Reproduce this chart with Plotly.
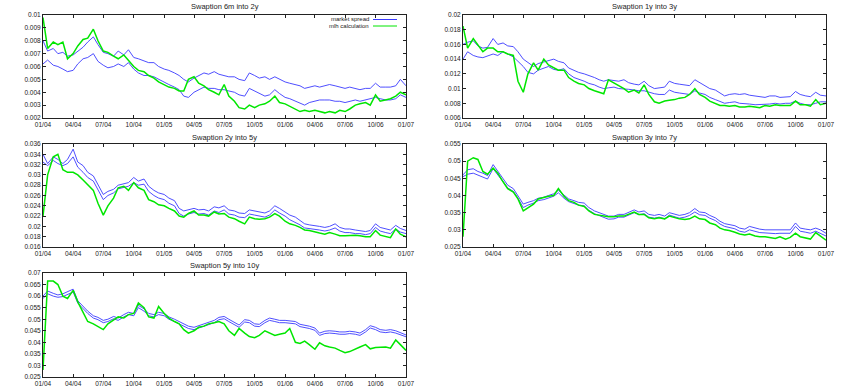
import numpy as np
import pandas as pd
import plotly.graph_objects as go

# semi-monthly sampling dates 01/04 .. 01/07
dates = pd.date_range("2004-01-01", periods=73, freq="SMS")
xticks = pd.date_range("2004-01-01", "2007-01-01", freq="QS")

# Swaption 6m into 2y
ask_6m2y = [
    0.0080,0.0072, 0.0074,0.0070, 0.0071,0.0068, 0.0069,0.0072, 0.0075,0.0079, 0.0083,0.0077,
    0.0071,0.0070, 0.0068,0.0072, 0.0069,0.0073, 0.0067,0.0066, 0.0064,0.0063, 0.0063,0.0060,
    0.0058,0.0057, 0.0055,0.0053, 0.0050,0.0048, 0.0051,0.0053, 0.0055,0.0054, 0.0056,0.0054,
    0.0053,0.0052, 0.0052,0.0050, 0.0049,0.0055, 0.0053,0.0051, 0.0052,0.0050, 0.0052,0.0050,
    0.0048,0.0047, 0.0046,0.0045, 0.0043,0.0044, 0.0045,0.0044, 0.0045,0.0046, 0.0045,0.0044,
    0.0043,0.0044, 0.0043,0.0042, 0.0043,0.0043, 0.0047,0.0044, 0.0044,0.0044, 0.0045,0.0050,
    0.0045]
bid_6m2y = [
    0.0062,0.0065, 0.0061,0.0060, 0.0058,0.0056, 0.0057,0.0062, 0.0066,0.0067, 0.0070,0.0064,
    0.0061,0.0059, 0.0060,0.0062, 0.0060,0.0063, 0.0058,0.0055, 0.0053,0.0053, 0.0052,0.0050,
    0.0048,0.0046, 0.0044,0.0042, 0.0037,0.0036, 0.0040,0.0042, 0.0044,0.0043, 0.0043,0.0042,
    0.0042,0.0041, 0.0040,0.0038, 0.0037,0.0043, 0.0041,0.0039, 0.0037,0.0038, 0.0042,0.0039,
    0.0036,0.0035, 0.0033,0.0032, 0.0030,0.0032, 0.0033,0.0034, 0.0034,0.0034, 0.0033,0.0033,
    0.0032,0.0033, 0.0034,0.0033, 0.0034,0.0035, 0.0036,0.0035, 0.0034,0.0034, 0.0035,0.0038,
    0.0036]
mlh_6m2y = [
    0.0098,0.0074, 0.0079,0.0077, 0.0079,0.0066, 0.0070,0.0076, 0.0081,0.0082, 0.0089,0.0080,
    0.0072,0.0071, 0.0068,0.0066, 0.0069,0.0065, 0.0060,0.0057, 0.0056,0.0053, 0.0051,0.0048,
    0.0046,0.0044, 0.0043,0.0041, 0.0041,0.0050, 0.0052,0.0047, 0.0045,0.0042, 0.0040,0.0038,
    0.0046,0.0037, 0.0033,0.0028, 0.0027,0.0030, 0.0028,0.0030, 0.0031,0.0033, 0.0037,0.0032,
    0.0031,0.0029, 0.0027,0.0025, 0.0026,0.0025, 0.0026,0.0025, 0.0024,0.0025, 0.0024,0.0026,
    0.0025,0.0027, 0.0030,0.0031, 0.0032,0.0030, 0.0038,0.0033, 0.0034,0.0035, 0.0037,0.0040,
    0.0038]

# Swaption 1y into 3y
ask_1y3y = [
    0.0160,0.0163, 0.0165,0.0158, 0.0155,0.0156, 0.0168,0.0160, 0.0162,0.0158, 0.0157,0.0150,
    0.0140,0.0135, 0.0130,0.0134, 0.0136,0.0138, 0.0140,0.0137, 0.0135,0.0128, 0.0125,0.0122,
    0.0120,0.0118, 0.0115,0.0112, 0.0110,0.0112, 0.0111,0.0110, 0.0112,0.0108, 0.0106,0.0105,
    0.0110,0.0104, 0.0100,0.0101, 0.0102,0.0110, 0.0107,0.0106, 0.0105,0.0104, 0.0112,0.0108,
    0.0104,0.0100, 0.0098,0.0094, 0.0090,0.0092, 0.0093,0.0092, 0.0093,0.0091, 0.0090,0.0089,
    0.0088,0.0090, 0.0090,0.0088, 0.0088,0.0089, 0.0096,0.0092, 0.0090,0.0089, 0.0095,0.0091,
    0.0090]
bid_1y3y = [
    0.0140,0.0150, 0.0145,0.0143, 0.0142,0.0144, 0.0147,0.0145, 0.0150,0.0147, 0.0143,0.0137,
    0.0130,0.0122, 0.0120,0.0125, 0.0128,0.0130, 0.0126,0.0125, 0.0127,0.0120, 0.0115,0.0113,
    0.0110,0.0107, 0.0105,0.0102, 0.0100,0.0101, 0.0102,0.0100, 0.0100,0.0099, 0.0098,0.0097,
    0.0097,0.0095, 0.0093,0.0092, 0.0092,0.0098, 0.0095,0.0094, 0.0093,0.0092, 0.0097,0.0094,
    0.0092,0.0088, 0.0085,0.0082, 0.0080,0.0081, 0.0082,0.0080, 0.0080,0.0079, 0.0078,0.0078,
    0.0078,0.0079, 0.0080,0.0079, 0.0080,0.0080, 0.0083,0.0080, 0.0078,0.0078, 0.0080,0.0082,
    0.0082]
mlh_1y3y = [
    0.0185,0.0155, 0.0168,0.0160, 0.0150,0.0155, 0.0155,0.0150, 0.0150,0.0147, 0.0145,0.0110,
    0.0095,0.0120, 0.0135,0.0125, 0.0140,0.0132, 0.0128,0.0125, 0.0125,0.0115, 0.0110,0.0107,
    0.0105,0.0100, 0.0097,0.0095, 0.0093,0.0112, 0.0108,0.0104, 0.0100,0.0095, 0.0098,0.0094,
    0.0105,0.0092, 0.0082,0.0080, 0.0083,0.0084, 0.0085,0.0087, 0.0088,0.0092, 0.0100,0.0092,
    0.0088,0.0083, 0.0080,0.0077, 0.0077,0.0076, 0.0077,0.0075, 0.0075,0.0076, 0.0075,0.0074,
    0.0077,0.0076, 0.0078,0.0077, 0.0077,0.0077, 0.0083,0.0078, 0.0078,0.0076, 0.0085,0.0078,
    0.0080]

# Swaption 2y into 5y
ask_2y5y = [
    0.0340,0.0322, 0.0335,0.0330, 0.0322,0.0330, 0.0350,0.0325, 0.0318,0.0305, 0.0298,0.0282,
    0.0262,0.0268, 0.0272,0.0280, 0.0282,0.0285, 0.0295,0.0288, 0.0292,0.0278, 0.0270,0.0265,
    0.0262,0.0255, 0.0250,0.0235, 0.0230,0.0232, 0.0235,0.0232, 0.0233,0.0230, 0.0238,0.0236,
    0.0240,0.0232, 0.0230,0.0226, 0.0225,0.0232, 0.0230,0.0228, 0.0226,0.0230, 0.0240,0.0235,
    0.0228,0.0222, 0.0218,0.0212, 0.0205,0.0203, 0.0202,0.0200, 0.0198,0.0200, 0.0205,0.0198,
    0.0195,0.0195, 0.0193,0.0192, 0.0190,0.0192, 0.0205,0.0198, 0.0195,0.0193, 0.0202,0.0196,
    0.0192]
bid_2y5y = [
    0.0325,0.0318, 0.0328,0.0322, 0.0318,0.0322, 0.0335,0.0315, 0.0305,0.0295, 0.0288,0.0272,
    0.0252,0.0260, 0.0265,0.0273, 0.0275,0.0278, 0.0285,0.0280, 0.0282,0.0268, 0.0260,0.0255,
    0.0252,0.0245, 0.0240,0.0225, 0.0220,0.0224, 0.0227,0.0224, 0.0225,0.0222, 0.0230,0.0227,
    0.0232,0.0224, 0.0222,0.0218, 0.0217,0.0224, 0.0222,0.0220, 0.0218,0.0222, 0.0232,0.0226,
    0.0220,0.0213, 0.0208,0.0203, 0.0197,0.0196, 0.0195,0.0193, 0.0191,0.0193, 0.0197,0.0191,
    0.0188,0.0188, 0.0186,0.0186, 0.0184,0.0186, 0.0198,0.0191, 0.0188,0.0186, 0.0195,0.0189,
    0.0186]
mlh_2y5y = [
    0.0220,0.0300, 0.0335,0.0340, 0.0310,0.0305, 0.0305,0.0300, 0.0290,0.0280, 0.0270,0.0245,
    0.0222,0.0240, 0.0255,0.0275, 0.0278,0.0270, 0.0285,0.0275, 0.0270,0.0252, 0.0248,0.0242,
    0.0240,0.0235, 0.0230,0.0220, 0.0218,0.0225, 0.0230,0.0222, 0.0222,0.0220, 0.0228,0.0224,
    0.0225,0.0218, 0.0215,0.0210, 0.0205,0.0218, 0.0215,0.0214, 0.0215,0.0218, 0.0225,0.0220,
    0.0210,0.0205, 0.0202,0.0198, 0.0193,0.0192, 0.0190,0.0187, 0.0185,0.0188, 0.0185,0.0182,
    0.0182,0.0183, 0.0183,0.0182, 0.0180,0.0180, 0.0192,0.0183, 0.0180,0.0178, 0.0195,0.0185,
    0.0180]

# Swaption 3y into 7y
ask_3y7y = [
    0.0460,0.0475, 0.0478,0.0470, 0.0465,0.0458, 0.0490,0.0470, 0.0450,0.0430, 0.0420,0.0400,
    0.0375,0.0380, 0.0385,0.0392, 0.0395,0.0400, 0.0405,0.0415, 0.0400,0.0390, 0.0385,0.0380,
    0.0378,0.0365, 0.0355,0.0350, 0.0345,0.0340, 0.0340,0.0345, 0.0345,0.0350, 0.0358,0.0352,
    0.0355,0.0345, 0.0342,0.0345, 0.0340,0.0350, 0.0345,0.0342, 0.0345,0.0350, 0.0362,0.0352,
    0.0350,0.0342, 0.0335,0.0325, 0.0318,0.0315, 0.0312,0.0305, 0.0302,0.0310, 0.0305,0.0302,
    0.0300,0.0300, 0.0298,0.0300, 0.0298,0.0300, 0.0320,0.0305, 0.0302,0.0300, 0.0305,0.0300,
    0.0290]
bid_3y7y = [
    0.0455,0.0462, 0.0465,0.0460, 0.0455,0.0448, 0.0478,0.0460, 0.0440,0.0422, 0.0412,0.0392,
    0.0365,0.0372, 0.0378,0.0385, 0.0388,0.0392, 0.0398,0.0408, 0.0392,0.0382, 0.0377,0.0372,
    0.0370,0.0357, 0.0347,0.0342, 0.0336,0.0331, 0.0332,0.0337, 0.0337,0.0342, 0.0350,0.0344,
    0.0347,0.0337, 0.0334,0.0337, 0.0332,0.0343, 0.0337,0.0334, 0.0337,0.0342, 0.0352,0.0344,
    0.0342,0.0334, 0.0327,0.0317, 0.0310,0.0307, 0.0303,0.0296, 0.0293,0.0300, 0.0296,0.0292,
    0.0291,0.0290, 0.0289,0.0290, 0.0289,0.0290, 0.0310,0.0296, 0.0293,0.0290, 0.0296,0.0290,
    0.0282]
mlh_3y7y = [
    0.0280,0.0500, 0.0510,0.0505, 0.0470,0.0462, 0.0480,0.0465, 0.0440,0.0420, 0.0410,0.0390,
    0.0355,0.0365, 0.0375,0.0390, 0.0395,0.0398, 0.0400,0.0420, 0.0398,0.0385, 0.0380,0.0372,
    0.0368,0.0355, 0.0345,0.0342, 0.0340,0.0338, 0.0338,0.0340, 0.0340,0.0345, 0.0352,0.0345,
    0.0345,0.0335, 0.0332,0.0335, 0.0332,0.0340, 0.0335,0.0332, 0.0330,0.0332, 0.0340,0.0332,
    0.0330,0.0320, 0.0315,0.0305, 0.0300,0.0298, 0.0293,0.0288, 0.0285,0.0288, 0.0282,0.0280,
    0.0280,0.0278, 0.0275,0.0280, 0.0273,0.0278, 0.0290,0.0280, 0.0275,0.0273, 0.0292,0.0283,
    0.0270]

# Swaption 5y into 10y
ask_5y10y = [
    0.0600,0.0622, 0.0612,0.0605, 0.0610,0.0618, 0.0630,0.0580, 0.0555,0.0535, 0.0515,0.0508,
    0.0495,0.0500, 0.0512,0.0505, 0.0520,0.0530, 0.0525,0.0560, 0.0545,0.0525, 0.0520,0.0530,
    0.0525,0.0510, 0.0500,0.0490, 0.0480,0.0470, 0.0465,0.0472, 0.0480,0.0488, 0.0495,0.0508,
    0.0512,0.0500, 0.0485,0.0475, 0.0498,0.0495, 0.0480,0.0478, 0.0495,0.0505, 0.0500,0.0495,
    0.0495,0.0492, 0.0490,0.0478, 0.0475,0.0470, 0.0462,0.0440, 0.0448,0.0450, 0.0448,0.0445,
    0.0445,0.0448, 0.0445,0.0440, 0.0455,0.0472, 0.0465,0.0455, 0.0452,0.0455, 0.0450,0.0442,
    0.0432]
bid_5y10y = [
    0.0590,0.0610, 0.0600,0.0595, 0.0598,0.0608, 0.0618,0.0570, 0.0545,0.0525, 0.0505,0.0498,
    0.0485,0.0490, 0.0502,0.0495, 0.0510,0.0520, 0.0515,0.0550, 0.0535,0.0515, 0.0510,0.0520,
    0.0515,0.0500, 0.0490,0.0480, 0.0470,0.0460, 0.0455,0.0462, 0.0470,0.0478, 0.0485,0.0498,
    0.0502,0.0490, 0.0475,0.0465, 0.0488,0.0485, 0.0470,0.0468, 0.0485,0.0495, 0.0490,0.0485,
    0.0485,0.0482, 0.0480,0.0468, 0.0465,0.0460, 0.0452,0.0430, 0.0438,0.0440, 0.0438,0.0435,
    0.0435,0.0438, 0.0435,0.0430, 0.0445,0.0462, 0.0455,0.0445, 0.0442,0.0445, 0.0440,0.0432,
    0.0424]
mlh_5y10y = [
    0.0280,0.0665, 0.0665,0.0650, 0.0600,0.0590, 0.0625,0.0575, 0.0530,0.0490, 0.0480,0.0470,
    0.0455,0.0480, 0.0495,0.0510, 0.0505,0.0520, 0.0525,0.0570, 0.0550,0.0510, 0.0505,0.0555,
    0.0525,0.0505, 0.0490,0.0480, 0.0455,0.0440, 0.0450,0.0465, 0.0470,0.0480, 0.0485,0.0490,
    0.0480,0.0450, 0.0430,0.0460, 0.0440,0.0425, 0.0420,0.0430, 0.0450,0.0440, 0.0430,0.0435,
    0.0440,0.0460, 0.0400,0.0395, 0.0405,0.0390, 0.0370,0.0398, 0.0385,0.0380, 0.0375,0.0365,
    0.0355,0.0360, 0.0372,0.0380, 0.0390,0.0372, 0.0378,0.0378, 0.0380,0.0375, 0.0410,0.0390,
    0.0365]

titles = ["Swaption 6m into 2y", "Swaption 1y into 3y", "Swaption 2y into 5y",
          "Swaption 3y into 7y", "Swaption 5y into 10y"]
series = [(ask_6m2y, bid_6m2y, mlh_6m2y), (ask_1y3y, bid_1y3y, mlh_1y3y),
          (ask_2y5y, bid_2y5y, mlh_2y5y), (ask_3y7y, bid_3y7y, mlh_3y7y),
          (ask_5y10y, bid_5y10y, mlh_5y10y)]
yranges = [(0.002, 0.01), (0.006, 0.02), (0.016, 0.036), (0.025, 0.055), (0.025, 0.07)]
ysteps = [0.001, 0.002, 0.002, 0.005, 0.005]

W, H = 841, 387
# plot boxes in pixels: (left, right, top, bottom)
boxes = [(43, 406, 15, 118), (463, 826, 15, 118),
         (43, 406, 144, 247), (463, 826, 144, 247),
         (43, 406, 273, 377)]
title_y = [7, 7, 137, 137, 265]

BLUE = "#3a3aff"
GREEN = "#00e600"
FONT = dict(family="Liberation Sans, Arial, sans-serif", size=6.5, color="#222")
TFONT = dict(FONT, size=7.5)

fig = go.Figure()
layout = {}
annotations = []
for i, (t, (ask, bid, mlh)) in enumerate(zip(titles, series)):
    n = "" if i == 0 else str(i + 1)
    xa, ya = "x" + n, "y" + n
    fig.add_trace(go.Scatter(x=dates, y=ask, xaxis=xa, yaxis=ya, mode="lines",
                             line=dict(color=BLUE, width=0.9), name="market spread"))
    fig.add_trace(go.Scatter(x=dates, y=bid, xaxis=xa, yaxis=ya, mode="lines",
                             line=dict(color=BLUE, width=0.9), name="market spread"))
    fig.add_trace(go.Scatter(x=dates, y=mlh, xaxis=xa, yaxis=ya, mode="lines",
                             line=dict(color=GREEN, width=1.5), name="mlh calculation"))
    l, r, tp, bt = boxes[i]
    lo, hi = yranges[i]
    yt = np.round(np.arange(lo, hi + ysteps[i] / 2, ysteps[i]), 4)
    axcommon = dict(showline=True, linecolor="#222", linewidth=1, mirror="ticks",
                    ticks="inside", ticklen=3, tickcolor="#222", showgrid=False,
                    zeroline=False, tickfont=FONT, automargin=False,
                    ticklabeloverflow="allow")
    layout["xaxis" + n] = dict(axcommon, domain=[l / W, r / W], anchor=ya,
                               range=["2004-01-01", "2007-01-01"], tickvals=xticks,
                               ticktext=[d.strftime("%m/%y") for d in xticks])
    layout["yaxis" + n] = dict(axcommon, domain=[1 - bt / H, 1 - tp / H], anchor=xa,
                               range=[lo, hi], tickvals=yt,
                               ticktext=[f"{v:g}" for v in yt])
    annotations.append(dict(text=t, x=(l + r) / 2 / W, y=1 - title_y[i] / H,
                            xref="paper", yref="paper", showarrow=False,
                            font=TFONT, xanchor="center", yanchor="middle"))

# key in the first panel, gnuplot style (label then sample line)
key_labels = ["market spread", "mlh calculation"]
key_colors = [BLUE, GREEN]
key_y = [19.5, 26]
shapes = []
for lab, col, ky in zip(key_labels, key_colors, key_y):
    annotations.append(dict(text=lab, x=370 / W, y=1 - ky / H, xref="paper", yref="paper",
                            showarrow=False, xanchor="right", yanchor="middle",
                            font=dict(FONT, size=6), borderpad=0))
    shapes.append(dict(type="line", xref="paper", yref="paper",
                       x0=373 / W, x1=397 / W, y0=1 - ky / H, y1=1 - ky / H,
                       line=dict(color=col, width=1)))

fig.update_layout(
    width=W, height=H,
    margin=dict(l=0, r=0, t=0, b=0),
    paper_bgcolor="white", plot_bgcolor="white",
    annotations=annotations,
    shapes=shapes,
    showlegend=False,
    **layout,
)

fig.write_html("out.html", config={"displayModeBar": False},
               post_script="document.body.style.margin='0';")
